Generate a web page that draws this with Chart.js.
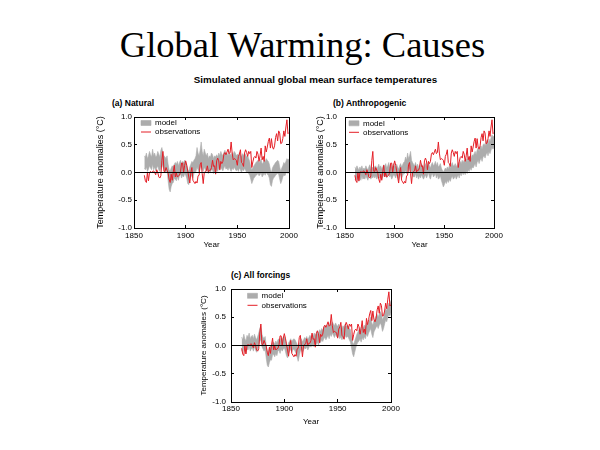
<!DOCTYPE html>
<html>
<head>
<meta charset="utf-8">
<script src="https://cdn.jsdelivr.net/npm/chart.js@4.4.1/dist/chart.umd.min.js"></script>
<style>
  html, body { margin: 0; padding: 0; background: #fff; }
  body { width: 600px; height: 450px; position: relative; overflow: hidden; }
  .abs { position: absolute; white-space: nowrap; color: #000; }
  #title { left: 0; width: 605px; top: 27px; text-align: center; font: 36.5px/36px 'Liberation Serif', 'Times New Roman', serif; }
  #sub { left: 0; width: 631px; top: 75px; text-align: center; font: bold 9.8px/10px 'Liberation Sans', Arial, sans-serif; }
  .plab { font: bold 8.5px/8.5px 'Liberation Sans', Arial, sans-serif; }
  canvas { position: absolute; }
</style>
</head>
<body>
<div id="title" class="abs">Global Warming: Causes</div>
<div id="sub" class="abs">Simulated annual global mean surface temperatures</div>
<div class="abs plab" style="left:112px;top:99px">(a) Natural</div>
<div class="abs plab" style="left:333px;top:99px">(b) Anthropogenic</div>
<div class="abs plab" style="left:231px;top:271px">(c) All forcings</div>

<canvas id="chartA" width="214" height="148" style="left:92px;top:104px"></canvas>
<canvas id="chartB" width="199" height="151" style="left:312px;top:101px"></canvas>
<canvas id="chartC" width="212" height="154" style="left:196px;top:275px"></canvas>

<script>
// annual values, 1860 .. 2000, anomalies in degC
const firstYear = 1860;
const xTicks = [1850, 1900, 1950, 2000];
const yTicks = [-1, -0.5, 0, 0.5, 1];
const seriesNames = ['model', 'observations'];

const observations = [
  -0.05, -0.15, -0.18, 0.00, -0.15, 0.00, 0.02, 0.00, 0.02, 0.03,
  0.00, -0.04, 0.05, 0.00, -0.08, -0.10, -0.06, 0.22, 0.38, 0.02,
  0.02, 0.09, 0.04, -0.01, -0.12, -0.18, -0.03, -0.14, 0.01, 0.13,
  -0.08, -0.01, -0.08, -0.06, -0.05, 0.01, 0.17, 0.17, 0.00, 0.13,
  0.21, 0.13, 0.03, -0.08, -0.19, 0.00, 0.09, -0.14, -0.17, -0.20,
  -0.16, -0.19, -0.06, -0.05, 0.14, 0.18, -0.02, -0.20, 0.00, 0.02,
  0.03, 0.12, 0.01, 0.04, 0.04, 0.09, 0.22, 0.11, 0.12, -0.03,
  0.21, 0.26, 0.21, 0.05, 0.20, 0.16, 0.20, 0.33, 0.36, 0.32,
  0.37, 0.42, 0.34, 0.36, 0.55, 0.35, 0.23, 0.25, 0.24, 0.22,
  0.13, 0.29, 0.33, 0.41, 0.18, 0.16, 0.11, 0.35, 0.41, 0.36,
  0.29, 0.38, 0.34, 0.38, 0.09, 0.19, 0.27, 0.29, 0.26, 0.38,
  0.33, 0.20, 0.30, 0.44, 0.23, 0.29, 0.20, 0.48, 0.37, 0.46,
  0.56, 0.62, 0.44, 0.61, 0.46, 0.42, 0.48, 0.63, 0.70, 0.57,
  0.75, 0.71, 0.52, 0.53, 0.61, 0.75, 0.65, 0.82, 0.95, 0.70,
  0.72
];

// (a) natural forcing, model range
const naturalHigh = [
  0.30, 0.28, 0.35, 0.25, 0.30, 0.38, 0.32, 0.28, 0.42, 0.30,
  0.35, 0.28, 0.30, 0.38, 0.33, 0.28, 0.40, 0.45, 0.35, 0.30,
  0.28, 0.25, 0.30, 0.15, 0.05, 0.02, 0.08, 0.12, 0.10, 0.15,
  0.18, 0.15, 0.20, 0.12, 0.18, 0.22, 0.15, 0.20, 0.18, 0.22,
  0.20, 0.15, 0.05, 0.02, 0.10, 0.15, 0.20, 0.18, 0.22, 0.25,
  0.30, 0.45, 0.35, 0.30, 0.40, 0.55, 0.38, 0.30, 0.42, 0.35,
  0.30, 0.35, 0.25, 0.30, 0.28, 0.35, 0.32, 0.25, 0.30, 0.28,
  0.32, 0.28, 0.35, 0.30, 0.38, 0.33, 0.30, 0.36, 0.40, 0.33,
  0.35, 0.30, 0.38, 0.34, 0.30, 0.36, 0.32, 0.38, 0.35, 0.30,
  0.33, 0.30, 0.36, 0.32, 0.28, 0.34, 0.30, 0.35, 0.32, 0.28,
  0.30, 0.25, 0.20, 0.10, 0.05, 0.08, 0.12, 0.15, 0.18, 0.20,
  0.22, 0.18, 0.20, 0.24, 0.15, 0.18, 0.22, 0.20, 0.25, 0.22,
  0.20, 0.15, 0.05, 0.00, 0.08, 0.12, 0.15, 0.18, 0.20, 0.22,
  0.20, 0.10, 0.02, 0.08, 0.12, 0.18, 0.15, 0.20, 0.25, 0.22,
  0.25
];
const naturalLow = [
  0.08, 0.05, 0.10, 0.02, 0.06, 0.12, 0.08, 0.05, 0.15, 0.05,
  0.10, 0.03, 0.08, 0.12, 0.05, 0.02, 0.10, 0.15, 0.10, 0.05,
  0.02, 0.00, 0.05, -0.15, -0.30, -0.35, -0.25, -0.20, -0.18, -0.10,
  -0.12, -0.15, -0.08, -0.14, -0.06, -0.02, -0.10, -0.05, -0.08, -0.02,
  -0.05, -0.10, -0.20, -0.22, -0.12, -0.08, -0.05, -0.10, -0.02, 0.00,
  0.02, 0.10, 0.05, 0.00, 0.08, 0.15, 0.05, 0.02, 0.10, 0.05,
  0.02, 0.05, -0.02, 0.03, 0.00, 0.06, 0.04, -0.02, 0.02, 0.00,
  0.05, 0.02, 0.08, 0.04, 0.10, 0.06, 0.03, 0.08, 0.12, 0.06,
  0.08, 0.04, 0.10, 0.06, 0.02, 0.08, 0.05, 0.10, 0.06, 0.03,
  0.06, 0.02, 0.08, 0.05, 0.00, 0.06, 0.03, 0.07, 0.04, 0.00,
  0.02, -0.02, -0.05, -0.12, -0.20, -0.15, -0.10, -0.08, -0.05, -0.04,
  -0.02, -0.06, -0.04, 0.00, -0.08, -0.05, -0.02, -0.05, 0.00, -0.03,
  -0.05, -0.10, -0.22, -0.25, -0.15, -0.10, -0.08, -0.05, -0.03, -0.02,
  -0.03, -0.12, -0.20, -0.15, -0.08, -0.04, -0.06, -0.02, 0.02, -0.02,
  0.00
];

// (b) anthropogenic forcing, model range
const anthroHigh = [
  0.10, 0.05, 0.12, 0.08, 0.04, 0.10, 0.06, 0.12, 0.05, 0.08,
  0.06, 0.12, 0.08, 0.04, 0.10, 0.14, 0.06, 0.10, 0.08, 0.12,
  0.08, 0.12, 0.05, 0.10, 0.15, 0.08, 0.12, 0.06, 0.10, 0.14,
  0.10, 0.16, 0.08, 0.12, 0.18, 0.10, 0.14, 0.08, 0.12, 0.16,
  0.12, 0.08, 0.15, 0.10, 0.06, 0.12, 0.16, 0.10, 0.14, 0.18,
  0.20, 0.28, 0.22, 0.35, 0.25, 0.30, 0.38, 0.22, 0.18, 0.15,
  0.12, 0.18, 0.10, 0.15, 0.08, 0.14, 0.10, 0.16, 0.12, 0.08,
  0.12, 0.16, 0.10, 0.14, 0.20, 0.12, 0.08, 0.15, 0.18, 0.12,
  0.15, 0.20, 0.12, 0.18, 0.10, 0.12, 0.16, 0.08, 0.04, 0.02,
  0.04, 0.08, 0.05, 0.10, 0.06, 0.12, 0.08, 0.14, 0.18, 0.12,
  0.12, 0.16, 0.10, 0.14, 0.18, 0.12, 0.20, 0.16, 0.22, 0.18,
  0.22, 0.18, 0.25, 0.20, 0.28, 0.24, 0.30, 0.26, 0.32, 0.30,
  0.34, 0.38, 0.32, 0.40, 0.44, 0.38, 0.45, 0.48, 0.42, 0.50,
  0.52, 0.48, 0.55, 0.58, 0.52, 0.60, 0.56, 0.62, 0.68, 0.64,
  0.66
];
const anthroLow = [
  -0.12, -0.15, -0.08, -0.12, -0.16, -0.10, -0.14, -0.06, -0.12, -0.10,
  -0.12, -0.06, -0.10, -0.14, -0.08, -0.04, -0.12, -0.08, -0.10, -0.06,
  -0.10, -0.06, -0.12, -0.08, -0.04, -0.10, -0.06, -0.12, -0.08, -0.05,
  -0.08, -0.04, -0.10, -0.06, -0.02, -0.08, -0.05, -0.12, -0.08, -0.04,
  -0.06, -0.10, -0.04, -0.08, -0.14, -0.06, -0.03, -0.10, -0.06, -0.02,
  -0.02, 0.04, -0.02, 0.08, 0.00, 0.05, 0.10, -0.02, -0.06, -0.08,
  -0.08, -0.02, -0.10, -0.05, -0.12, -0.06, -0.10, -0.04, -0.08, -0.12,
  -0.08, -0.04, -0.10, -0.06, 0.00, -0.08, -0.12, -0.05, -0.02, -0.08,
  -0.06, -0.02, -0.10, -0.04, -0.12, -0.10, -0.06, -0.14, -0.20, -0.26,
  -0.22, -0.16, -0.20, -0.14, -0.18, -0.12, -0.16, -0.10, -0.06, -0.12,
  -0.10, -0.06, -0.12, -0.08, -0.04, -0.10, -0.02, -0.06, 0.00, -0.04,
  0.00, -0.04, 0.03, -0.02, 0.05, 0.02, 0.08, 0.04, 0.10, 0.08,
  0.12, 0.16, 0.10, 0.18, 0.22, 0.16, 0.22, 0.26, 0.20, 0.28,
  0.30, 0.26, 0.32, 0.36, 0.30, 0.38, 0.34, 0.40, 0.45, 0.42,
  0.45
];

// (c) all forcings, model range
const allHigh = [
  0.15, 0.10, 0.20, 0.12, 0.08, 0.18, 0.14, 0.22, 0.12, 0.16,
  0.18, 0.12, 0.20, 0.14, 0.10, 0.16, 0.22, 0.30, 0.35, 0.20,
  0.15, 0.12, 0.16, 0.00, -0.10, -0.12, -0.05, 0.00, -0.02, 0.05,
  0.06, 0.02, 0.08, 0.04, 0.10, 0.12, 0.08, 0.14, 0.10, 0.15,
  0.16, 0.10, 0.02, -0.02, 0.05, 0.08, 0.12, 0.06, 0.10, 0.12,
  0.10, 0.06, 0.02, -0.04, 0.02, 0.08, 0.12, 0.06, 0.10, 0.14,
  0.12, 0.16, 0.10, 0.14, 0.18, 0.15, 0.20, 0.16, 0.22, 0.18,
  0.22, 0.26, 0.20, 0.28, 0.25, 0.30, 0.27, 0.32, 0.35, 0.30,
  0.34, 0.38, 0.32, 0.40, 0.36, 0.42, 0.38, 0.35, 0.40, 0.36,
  0.34, 0.38, 0.32, 0.36, 0.30, 0.35, 0.32, 0.38, 0.34, 0.36,
  0.34, 0.30, 0.28, 0.15, 0.05, 0.02, 0.08, 0.14, 0.20, 0.24,
  0.28, 0.32, 0.26, 0.34, 0.30, 0.36, 0.32, 0.40, 0.36, 0.42,
  0.46, 0.50, 0.40, 0.36, 0.44, 0.48, 0.52, 0.55, 0.50, 0.56,
  0.60, 0.56, 0.45, 0.50, 0.58, 0.65, 0.62, 0.70, 0.75, 0.72,
  0.80
];
const allLow = [
  -0.08, -0.12, -0.04, -0.10, -0.14, -0.06, -0.08, 0.00, -0.10, -0.06,
  -0.04, -0.10, -0.02, -0.08, -0.12, -0.06, 0.00, 0.08, 0.10, -0.02,
  -0.06, -0.10, -0.06, -0.22, -0.35, -0.38, -0.30, -0.25, -0.26, -0.16,
  -0.16, -0.20, -0.14, -0.18, -0.10, -0.08, -0.14, -0.06, -0.10, -0.06,
  -0.04, -0.10, -0.18, -0.22, -0.14, -0.10, -0.06, -0.12, -0.08, -0.06,
  -0.10, -0.14, -0.20, -0.28, -0.18, -0.10, -0.06, -0.12, -0.08, -0.04,
  -0.06, -0.02, -0.08, -0.04, 0.00, -0.03, 0.02, -0.02, 0.04, 0.00,
  0.02, 0.06, 0.00, 0.08, 0.05, 0.10, 0.07, 0.12, 0.14, 0.10,
  0.14, 0.18, 0.12, 0.20, 0.16, 0.22, 0.18, 0.14, 0.20, 0.16,
  0.14, 0.18, 0.12, 0.16, 0.10, 0.15, 0.12, 0.18, 0.14, 0.16,
  0.14, 0.10, 0.06, -0.05, -0.15, -0.20, -0.12, -0.04, 0.02, 0.06,
  0.08, 0.12, 0.06, 0.14, 0.10, 0.16, 0.12, 0.20, 0.16, 0.22,
  0.26, 0.30, 0.20, 0.14, 0.24, 0.28, 0.32, 0.35, 0.30, 0.36,
  0.40, 0.35, 0.25, 0.30, 0.38, 0.45, 0.42, 0.50, 0.55, 0.52,
  0.58
];

const FONT = "'Liberation Sans', Arial, Helvetica, sans-serif";
const GREY = 'rgb(172,172,172)';
const RED = 'rgb(228,30,38)';

const years = observations.map((v, i) => firstYear + i);
const toPoints = arr => arr.map((v, i) => ({ x: years[i], y: v }));

/**
 * Moves the in-plot legend to where the figure has it.
 */
const legendSpot = {
  id: 'legendSpot',
  afterLayout(chart, args, opts) {
    const lg = chart.legend, ca = chart.chartArea;
    if (!lg || !ca) return;
    lg.left = ca.left + opts.dx;
    lg.top = ca.top + opts.dy;
    lg.right = ca.right;
    lg.bottom = ca.bottom;
    lg.width = lg.right - lg.left;
    lg.height = lg.bottom - lg.top;
  }
};

// all scale layers share z 1 so grid (which sets the border position) draws first
function xScale(p, main) {
  return {
    type: 'linear', min: 1850, max: 2000,
    position: main ? 'bottom' : 'top',
    afterBuildTicks: s => { s.ticks = xTicks.map(v => ({ value: v })); },
    afterFit: s => { s.height = main ? p.xH : 0; },
    ticks: {
      display: main, color: '#000', padding: p.xPad, maxRotation: 0, z: 1,
      font: { family: FONT, size: 8 },
      callback: v => String(v)
    },
    grid: { drawOnChartArea: false, tickLength: -3, tickColor: '#000', z: 1 },
    border: { color: '#000', width: 1, z: 1 },
    title: { display: main, text: 'Year', color: '#000', padding: 0, font: { family: FONT, size: 8 } }
  };
}

function yScale(p, main) {
  return {
    type: 'linear', min: -1, max: 1,
    position: main ? 'left' : 'right',
    afterBuildTicks: s => { s.ticks = yTicks.map(v => ({ value: v })); },
    afterFit: s => { s.width = main ? p.yWidth : 0; },
    ticks: {
      display: main, color: '#000', padding: p.yPad, z: 1,
      font: { family: FONT, size: 8 },
      callback: v => v.toFixed(1)
    },
    grid: {
      drawOnChartArea: main,
      color: c => (main && c.tick && c.tick.value === 0) ? '#000' : 'rgba(0,0,0,0)',
      lineWidth: 1,
      tickLength: -3, tickColor: '#000', z: 1
    },
    border: { color: '#000', width: 1, z: 1 },
    title: {
      display: main, text: 'Temperature anomalies (°C)', color: '#000',
      padding: { top: p.yTitlePad, bottom: 0 },
      font: { family: FONT, size: p.yTitleSize }
    }
  };
}

function makePanel(p) {
  const ctx = document.getElementById(p.id).getContext('2d');
  return new Chart(ctx, {
    type: 'line',
    data: {
      datasets: [
        {
          label: seriesNames[0], data: toPoints(p.high),
          borderColor: GREY, backgroundColor: GREY, borderWidth: 0.6,
          fill: '+1', pointRadius: 0, pointStyle: 'rect', tension: 0
        },
        {
          label: '', data: toPoints(p.low),
          borderColor: GREY, backgroundColor: GREY, borderWidth: 0.6,
          fill: false, pointRadius: 0, tension: 0
        },
        {
          label: seriesNames[1], data: toPoints(observations),
          borderColor: RED, backgroundColor: RED, borderWidth: 1,
          fill: false, pointRadius: 0, pointStyle: 'line', tension: 0, order: -1
        }
      ]
    },
    options: {
      responsive: false,
      animation: false,
      devicePixelRatio: 1,
      layout: { padding: p.pad },
      plugins: {
        legend: {
          position: 'chartArea', align: 'start',
          labels: {
            usePointStyle: true, pointStyleWidth: 10, boxHeight: 5,
            padding: p.lgGap, color: '#000',
            font: { family: FONT, size: 8 },
            filter: item => item.text !== '',
            sort: (a, b) => a.datasetIndex - b.datasetIndex
          }
        },
        tooltip: { enabled: false },
        legendSpot: { dx: p.lgDx, dy: p.lgDy }
      },
      scales: {
        x: xScale(p, true),
        x2: xScale(p, false),
        y: yScale(p, true),
        y2: yScale(p, false)
      }
    },
    plugins: [legendSpot]
  });
}

const panels = [
  { id: 'chartA', high: naturalHigh, low: naturalLow,
    pad: { left: 0, top: 13, right: 17, bottom: 2 },
    yWidth: 42, yPad: 5, yTitlePad: 3, yTitleSize: 9, xH: 22, xPad: 6,
    lgDx: 6, lgDy: 1, lgGap: 1 },
  { id: 'chartB', high: anthroHigh, low: anthroLow,
    pad: { left: 0, top: 16, right: 17, bottom: 2 },
    yWidth: 33, yPad: 11, yTitlePad: 3, yTitleSize: 9, xH: 22, xPad: 6,
    lgDx: 3, lgDy: 1.3, lgGap: 1 },
  { id: 'chartC', high: allHigh, low: allLow,
    pad: { left: 0, top: 14, right: 17, bottom: 2 },
    yWidth: 35, yPad: 8, yTitlePad: 2.5, yTitleSize: 8, xH: 25, xPad: 5,
    lgDx: 15, lgDy: 1.3, lgGap: 1.5 }
];

panels.forEach(makePanel);
</script>
</body>
</html>
